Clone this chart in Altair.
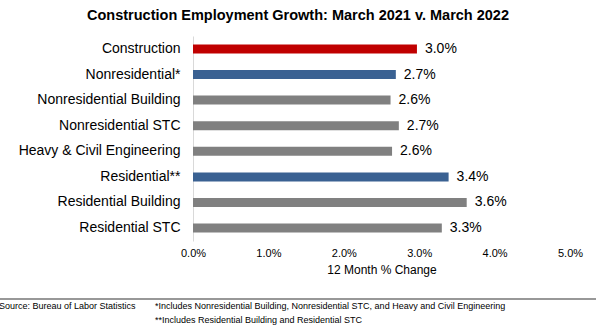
import altair as alt
import pandas as pd

categories = ["Construction", "Nonresidential*", "Nonresidential Building", "Nonresidential STC",
              "Heavy & Civil Engineering", "Residential**", "Residential Building", "Residential STC"]
values = [2.97, 2.69, 2.62, 2.73, 2.64, 3.39, 3.63, 3.30]
groups = ["total", "sub", "detail", "detail", "detail", "sub", "detail", "detail"]
x_ticks = [0, 1, 2, 3, 4, 5]

title_text = "Construction Employment Growth: March 2021 v. March 2022"
x_title = "12 Month % Change"
source_text = "Source:  Bureau of Labor Statistics"
note1 = "*Includes Nonresidential Building, Nonresidential STC, and Heavy and Civil Engineering"
note2 = "**Includes Residential Building and Residential STC"

df = pd.DataFrame({"cat": categories, "val": values, "grp": groups})
df["label"] = df["val"].map(lambda v: f"{v:.1f}%")

FONT = "Liberation Sans"
W, H = 377, 205
LEFT, TOP = 193, 36

y = alt.Y("cat:N", sort=categories, title=None,
          scale=alt.Scale(paddingInner=0.65, paddingOuter=0.33),
          axis=alt.Axis(labelFont=FONT, labelFontSize=14, labelColor="#000000",
                        labelPadding=13, ticks=False, domainColor="#d9d9d9",
                        domainWidth=1, labelLimit=300))
x = alt.X("val:Q", scale=alt.Scale(domain=[0, 5], nice=False),
          axis=alt.Axis(values=x_ticks, labelExpr="format(datum.value, '.1f') + '%'",
                        labelFont=FONT, labelFontSize=11, labelColor="#000000",
                        labelPadding=6, labelFlush=False, labelOverlap=False,
                        ticks=False, domain=False, grid=False,
                        title=x_title, titleFont=FONT, titleFontSize=12,
                        titleFontWeight="normal", titleColor="#000000", titlePadding=6))

bars = alt.Chart(df).mark_bar(size=9).encode(
    x=x, y=y,
    color=alt.Color("grp:N", scale=alt.Scale(domain=["total", "sub", "detail"],
                                             range=["#c00000", "#3a6192", "#808080"]),
                    legend=None))

labels = alt.Chart(df).mark_text(align="left", dx=8, font=FONT, fontSize=14,
                                 color="#000000").encode(
    x="val:Q", y=alt.Y("cat:N", sort=categories), text="label:N")

ann = pd.DataFrame({"dummy": [0]})
title = alt.Chart(ann).mark_text(font=FONT, fontSize=14.5, fontWeight="bold",
                                 color="#000000", align="center").encode(
    x=alt.value(298 - LEFT), y=alt.value(16 - TOP), text=alt.value(title_text))

rule = alt.Chart(ann).mark_rule(color="#333333", strokeWidth=1.2).encode(
    x=alt.value(-LEFT), x2=alt.value(596 - LEFT), y=alt.value(299 - TOP))

src = alt.Chart(ann).mark_text(font=FONT, fontSize=9, color="#000000", align="left").encode(
    x=alt.value(-1 - LEFT), y=alt.value(306 - TOP), text=alt.value(source_text))
n1 = alt.Chart(ann).mark_text(font=FONT, fontSize=9, color="#000000", align="left").encode(
    x=alt.value(155 - LEFT), y=alt.value(306 - TOP), text=alt.value(note1))
n2 = alt.Chart(ann).mark_text(font=FONT, fontSize=9, color="#000000", align="left").encode(
    x=alt.value(155 - LEFT), y=alt.value(320 - TOP), text=alt.value(note2))

chart = alt.layer(bars, labels, title, rule, src, n1, n2).properties(
    width=W, height=H,
    autosize=alt.AutoSizeParams(type="none"),
    padding={"left": LEFT, "top": TOP, "right": 596 - LEFT - W, "bottom": 334 - TOP - H},
).configure_view(stroke=None)

chart.save("out.html", embed_options={"renderer": "svg", "actions": False})
